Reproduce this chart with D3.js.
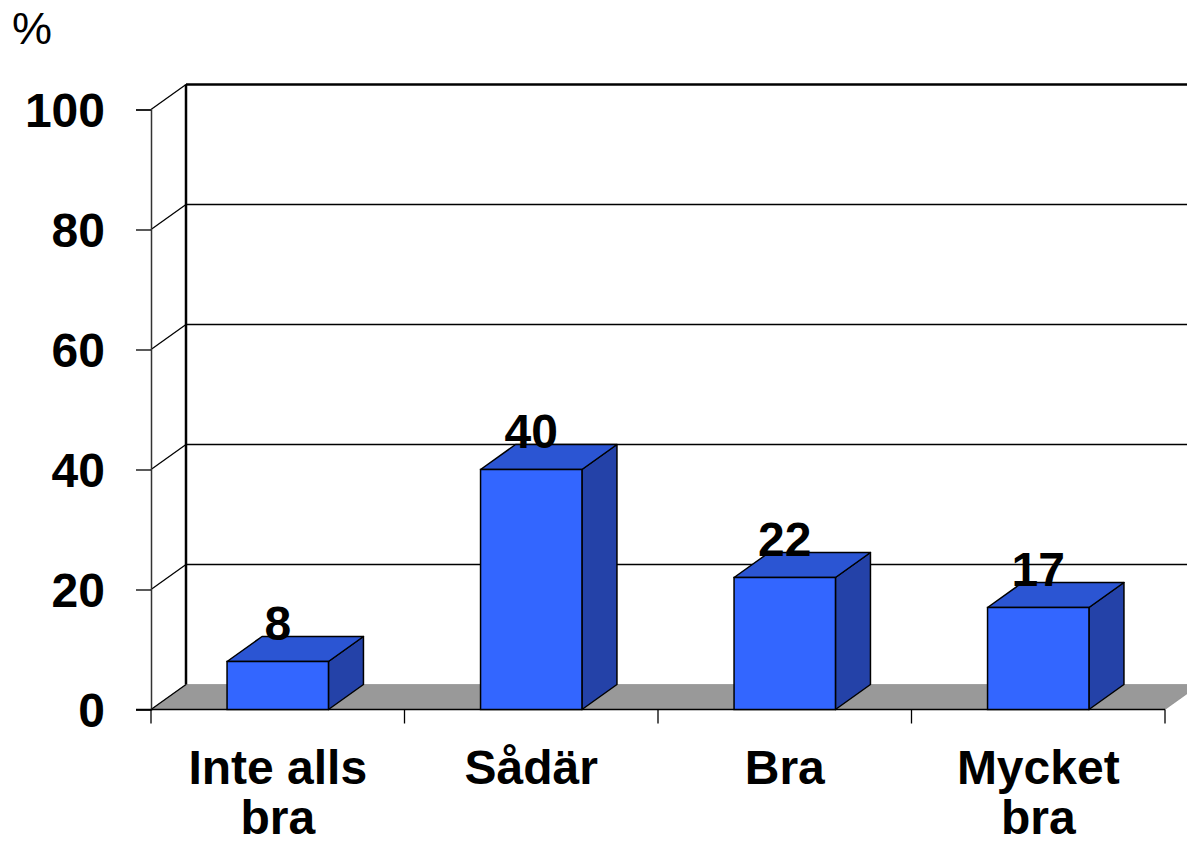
<!DOCTYPE html>
<html>
<head>
<meta charset="utf-8">
<script src="https://cdn.jsdelivr.net/npm/d3@7"></script>
<style>
  body { margin: 0; background: #fff; }
  svg { display: block; }
  text { font-family: "Liberation Sans", Arial, sans-serif; }
</style>
</head>
<body>
<div id="chart"></div>
<script>
// data
var categories = ["Inte alls bra", "Sådär", "Bra", "Mycket bra"];
var categoryLines = [["Inte alls", "bra"], ["Sådär"], ["Bra"], ["Mycket", "bra"]];
var values = [8, 40, 22, 17];
var yTicks = [0, 20, 40, 60, 80, 100];

var width = 1187, height = 845;
var dx = 35, dy = 25; // depth offset

var svg = d3.select("#chart").append("svg")
    .attr("width", width)
    .attr("height", height);

var x = d3.scaleBand()
    .domain(categories)
    .range([151, 1165])
    .padding(0);

var y = d3.scaleLinear()
    .domain([0, 100])
    .range([709.5, 109.5]);

var barW = x.bandwidth() * 0.4;

// floor
svg.append("polygon")
    .attr("points", [[151, y(0)], [1165, y(0)], [1165 + dx, y(0) - dy], [151 + dx, y(0) - dy]].join(" "))
    .style("fill", "#999999")
    .style("stroke", "#777")
    .style("stroke-width", 0.5);

// back wall gridlines
svg.selectAll(".grid")
    .data(yTicks.filter(function (d) { return d > 0; }))
    .enter()
    .append("line")
    .attr("class", "grid")
    .attr("x1", 151 + dx)
    .attr("x2", width + 5)
    .attr("y1", function (d) { return y(d) - dy; })
    .attr("y2", function (d) { return y(d) - dy; })
    .style("stroke", "#000")
    .style("stroke-width", function (d) { return d === 100 ? 2.5 : 1.5; });

// diagonals from front axis to back wall
svg.selectAll(".diag")
    .data(yTicks)
    .enter()
    .append("line")
    .attr("class", "diag")
    .attr("x1", 151)
    .attr("x2", 151 + dx)
    .attr("y1", function (d) { return y(d); })
    .attr("y2", function (d) { return y(d) - dy; })
    .style("stroke", "#000")
    .style("stroke-width", 1.3);

// back wall left edge
svg.append("line")
    .attr("x1", 151 + dx).attr("x2", 151 + dx)
    .attr("y1", y(100) - dy).attr("y2", y(0) - dy)
    .style("stroke", "#000")
    .style("stroke-width", 2.5);

// y axis
var yAxis = svg.append("g")
    .attr("transform", "translate(151,0)")
    .call(d3.axisLeft(y).tickValues(yTicks).tickSize(15).tickPadding(31));
yAxis.select(".domain").style("stroke", "#333").style("stroke-width", 1.5);
yAxis.selectAll(".tick line").style("stroke", "#000").style("stroke-width", 1.3);
yAxis.selectAll(".tick text")
    .attr("font-family", "Liberation Sans, Arial, sans-serif")
    .attr("font-size", 48)
    .attr("font-weight", "bold")
    .attr("fill", "#000")
    .attr("dy", "0.36em");

// x axis
var xAxis = svg.append("g")
    .attr("transform", "translate(0," + y(0) + ")");
xAxis.append("line")
    .attr("x1", 136).attr("x2", 1165)
    .style("stroke", "#000").style("stroke-width", 1.3);
xAxis.selectAll(".xtick")
    .data(categories.concat(["end"]))
    .enter()
    .append("line")
    .attr("x1", function (d, i) { return i < categories.length ? x(d) : x.range()[1]; })
    .attr("x2", function (d, i) { return i < categories.length ? x(d) : x.range()[1]; })
    .attr("y1", 0).attr("y2", 14)
    .style("stroke", "#000").style("stroke-width", 1.3);

// bars
var bar = svg.selectAll(".bar")
    .data(values)
    .enter()
    .append("g")
    .attr("class", "bar");

function bx(i) { return x(categories[i]) + (x.bandwidth() - barW) / 2; }

bar.append("polygon")
    .attr("points", function (d, i) {
        var x0 = bx(i) + barW, y0 = y(d), y1 = y(0);
        return [[x0, y0], [x0 + dx, y0 - dy], [x0 + dx, y1 - dy], [x0, y1]].join(" ");
    })
    .style("fill", "#2442a8")
    .style("stroke", "#000")
    .style("stroke-width", 1.5)
    .style("stroke-linejoin", "round");

bar.append("polygon")
    .attr("points", function (d, i) {
        var x0 = bx(i), y0 = y(d);
        return [[x0, y0], [x0 + dx, y0 - dy], [x0 + barW + dx, y0 - dy], [x0 + barW, y0]].join(" ");
    })
    .style("fill", "#2b55d3")
    .style("stroke", "#000")
    .style("stroke-width", 1.5)
    .style("stroke-linejoin", "round");

bar.append("rect")
    .attr("x", function (d, i) { return bx(i); })
    .attr("y", function (d) { return y(d); })
    .attr("width", barW)
    .attr("height", function (d) { return y(0) - y(d); })
    .style("fill", "#3366ff")
    .style("stroke", "#000")
    .style("stroke-width", 1.5);

// value labels
svg.selectAll(".val")
    .data(values)
    .enter()
    .append("text")
    .attr("class", "val")
    .attr("x", function (d, i) { return x(categories[i]) + x.bandwidth() / 2; })
    .attr("y", function (d) { return y(d) - 22; })
    .attr("text-anchor", "middle")
    .attr("font-size", 48)
    .attr("font-weight", "bold")
    .attr("fill", "#000")
    .text(function (d) { return d; });

// category labels
var cat = svg.selectAll(".cat")
    .data(categoryLines)
    .enter()
    .append("text")
    .attr("class", "cat")
    .attr("text-anchor", "middle")
    .attr("font-size", 48)
    .attr("font-weight", "bold")
    .attr("fill", "#000");

cat.selectAll("tspan")
    .data(function (d, i) {
        return d.map(function (t) { return { t: t, i: i }; });
    })
    .enter()
    .append("tspan")
    .attr("x", function (d) { return x(categories[d.i]) + x.bandwidth() / 2; })
    .attr("y", function (d, j) { return 784 + j * 50; })
    .text(function (d) { return d.t; });

// unit label
svg.append("text")
    .attr("x", 12)
    .attr("y", 44)
    .attr("font-size", 45)
    .attr("fill", "#000")
    .text("%");
</script>
</body>
</html>
